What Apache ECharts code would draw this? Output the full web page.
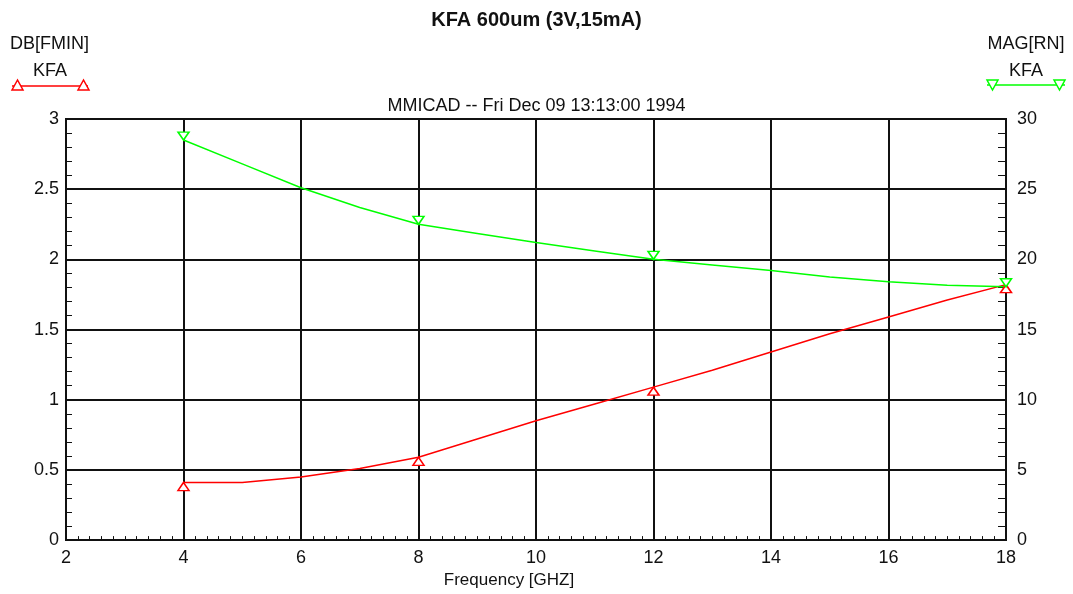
<!DOCTYPE html>
<html>
<head>
<meta charset="utf-8">
<script src="https://cdn.jsdelivr.net/npm/echarts@6/dist/echarts.min.js"></script>
<style>
html,body{margin:0;padding:0;background:#fff;}
#chart{width:1073px;height:594px;}
</style>
</head>
<body>
<div id="chart"></div>
<script>
// Data
const frequency = [4, 5, 6, 7, 8, 9, 10, 11, 12, 13, 14, 15, 16, 17, 18];
const dbFmin = [0.41, 0.41, 0.45, 0.51, 0.59, 0.72, 0.85, 0.97, 1.09, 1.21, 1.34, 1.47, 1.59, 1.71, 1.82];
const magRn = [28.5, 26.8, 25.1, 23.7, 22.5, 21.85, 21.2, 20.6, 20.0, 19.6, 19.2, 18.75, 18.4, 18.15, 18.05];
const markerFreqs = [4, 8, 12, 18];
const titleText = 'KFA 600um (3V,15mA)';
const subtitleText = 'MMICAD -- Fri Dec 09 13:13:00 1994';
const xAxisName = 'Frequency [GHZ]';
const leftLegend = ['DB[FMIN]', 'KFA'];
const rightLegend = ['MAG[RN]', 'KFA'];

const FONT = "'Liberation Sans Narrow', 'Liberation Sans', Arial, sans-serif";
const RED = '#ff0000';
const GREEN = '#00ff00';

function buildData(vals) {
  return frequency.map((f, i) => ({
    value: [f, vals[i]],
    symbol: markerFreqs.indexOf(f) >= 0 ? 'triangle' : 'none'
  }));
}

const chart = echarts.init(document.getElementById('chart'), null, {renderer: 'canvas'});

const axisLineStyle = {color: '#111', width: 2};
const labelStyle = {color: '#111', fontFamily: FONT, fontSize: 18};

const option = {
  backgroundColor: '#fff',
  animation: false,
  title: [
    {text: titleText, left: 'center', top: 5,
     textStyle: {fontFamily: "'Liberation Sans', Arial, sans-serif", fontWeight: 'bold', fontSize: 20, color: '#111'}},
    {text: subtitleText, left: 'center', top: 92,
     textStyle: {fontFamily: FONT, fontWeight: 'normal', fontSize: 18, color: '#111'}}
  ],
  grid: {left: 66, right: 67, top: 119, bottom: 51, show: true, borderColor: '#111', borderWidth: 2, backgroundColor: 'transparent'},
  xAxis: {
    type: 'value', min: 2, max: 18, interval: 2,
    name: xAxisName, nameLocation: 'middle', nameGap: 29,
    nameTextStyle: {fontFamily: FONT, fontSize: 17, color: '#111', padding: [0, 54, 0, 0]},
    axisLine: {show: true, lineStyle: axisLineStyle},
    axisTick: {show: true, inside: true, length: 4, lineStyle: {color: '#111', width: 1}},
    minorTick: {show: true, splitNumber: 10, length: 4, lineStyle: {color: '#111', width: 1}},
    splitLine: {show: true, lineStyle: axisLineStyle},
    axisLabel: Object.assign({margin: 9}, labelStyle)
  },
  yAxis: [
    {
      type: 'value', min: 0, max: 3, interval: 0.5, position: 'left',
      axisLine: {show: true, lineStyle: axisLineStyle},
      axisTick: {show: true, inside: true, length: 6, lineStyle: {color: '#111', width: 1}},
      minorTick: {show: true, splitNumber: 5, length: 6, lineStyle: {color: '#111', width: 1}},
      splitLine: {show: true, lineStyle: axisLineStyle},
      axisLabel: Object.assign({margin: 7}, labelStyle)
    },
    {
      type: 'value', min: 0, max: 30, interval: 5, position: 'right',
      axisLine: {show: true, lineStyle: axisLineStyle},
      axisTick: {show: true, inside: true, length: 8, lineStyle: {color: '#111', width: 1}},
      minorTick: {show: true, splitNumber: 5, length: 8, lineStyle: {color: '#111', width: 1}},
      splitLine: {show: false},
      axisLabel: Object.assign({margin: 11}, labelStyle)
    }
  ],
  series: [
    {
      name: 'DB[FMIN] KFA', type: 'line', yAxisIndex: 0,
      data: buildData(dbFmin),
      showAllSymbol: true, symbolSize: [11, 8], symbolOffset: [0, 4],
      lineStyle: {color: RED, width: 1.5},
      itemStyle: {color: '#fff', borderColor: RED, borderWidth: 1.5},
      z: 5
    },
    {
      name: 'MAG[RN] KFA', type: 'line', yAxisIndex: 1,
      data: buildData(magRn),
      showAllSymbol: true, symbolSize: [11, 8], symbolRotate: 180, symbolOffset: [0, -4],
      lineStyle: {color: GREEN, width: 1.5},
      itemStyle: {color: '#fff', borderColor: GREEN, borderWidth: 1.5},
      z: 5
    }
  ],
  graphic: [
    {type: 'text', left: 10, top: 35, style: {text: leftLegend[0], font: '18px ' + FONT, fill: '#111'}},
    {type: 'text', x: 50, y: 62, style: {text: leftLegend[1], font: '18px ' + FONT, fill: '#111', textAlign: 'center'}},
    {type: 'line', shape: {x1: 12, y1: 86, x2: 88, y2: 86}, style: {stroke: RED, lineWidth: 1.5}},
    {type: 'polygon', shape: {points: [[17.5, 80], [12, 90], [23, 90]]}, style: {stroke: RED, fill: '#fff', lineWidth: 1.5}},
    {type: 'polygon', shape: {points: [[83.5, 80], [78, 90], [89, 90]]}, style: {stroke: RED, fill: '#fff', lineWidth: 1.5}},
    {type: 'text', x: 1026, y: 35, style: {text: rightLegend[0], font: '18px ' + FONT, fill: '#111', textAlign: 'center'}},
    {type: 'text', x: 1026, y: 62, style: {text: rightLegend[1], font: '18px ' + FONT, fill: '#111', textAlign: 'center'}},
    {type: 'line', shape: {x1: 987, y1: 85, x2: 1065, y2: 85}, style: {stroke: GREEN, lineWidth: 1.5}},
    {type: 'polygon', shape: {points: [[987, 80], [998, 80], [992.5, 90]]}, style: {stroke: GREEN, fill: '#fff', lineWidth: 1.5}},
    {type: 'polygon', shape: {points: [[1054, 80], [1065, 80], [1059.5, 90]]}, style: {stroke: GREEN, fill: '#fff', lineWidth: 1.5}}
  ]
};

chart.setOption(option);
</script>
</body>
</html>
